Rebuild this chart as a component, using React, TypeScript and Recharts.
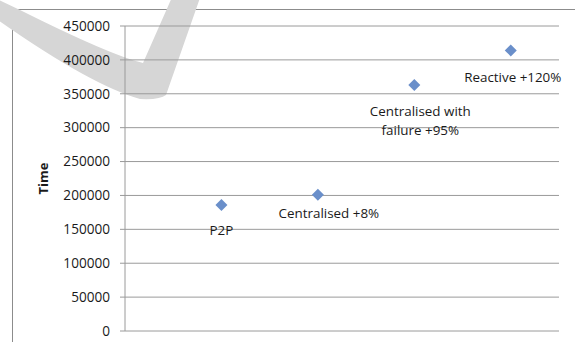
import React from "react";
import { ScatterChart, Scatter, XAxis, YAxis, CartesianGrid } from "recharts";

// run order along the hidden x axis, and measured completion time
const runs = [1, 2, 3, 4];
const times = [186000, 201000, 363000, 414000];
const pointLabels = ["P2P", "Centralised +8%", "Centralised with\nfailure +95%", "Reactive +120%"];
const yTicks = [0, 50000, 100000, 150000, 200000, 250000, 300000, 350000, 400000, 450000];

const data = runs.map((x, i) => ({ x, time: times[i], label: pointLabels[i] }));

const FONT = "'Open Sans', sans-serif";
const GRID = "#9a9a9a";
const INK = "#1a1a1a";

// hand-placed data labels, like the ones dragged around in the spreadsheet
const labelShift = [
  { dx: 0, dy: 25 },
  { dx: 11, dy: 18 },
  { dx: 6, dy: 26 },
  { dx: 2, dy: 27 },
];

function DiamondPoint(props: any) {
  const { cx, cy, index, payload } = props;
  const s = 6;
  const shift = labelShift[index] || { dx: 0, dy: 20 };
  const lines = String(payload.label).split("\n");
  return (
    <g>
      <path
        d={`M${cx} ${cy - s} L${cx + s} ${cy} L${cx} ${cy + s} L${cx - s} ${cy} Z`}
        fill="#6a8fca"
      />
      <text
        x={cx + shift.dx}
        y={cy + shift.dy}
        textAnchor="middle"
        dominantBaseline="central"
        fontFamily={FONT}
        fontSize={13.4}
        fill={INK}
      >
        {lines.map((ln, i) => (
          <tspan key={i} x={cx + shift.dx} dy={i === 0 ? 0 : 19}>
            {ln}
          </tspan>
        ))}
      </text>
    </g>
  );
}

export default function App() {
  return (
    <div style={{ position: "relative", width: 575, height: 342, overflow: "hidden", background: "#fff" }}>
      <style>{`body{margin:0}`}</style>
      {/* page frame */}
      <div
        style={{
          position: "absolute",
          left: 12,
          top: 9,
          right: -2,
          bottom: -2,
          borderLeft: "1px solid #8c8c8c",
          borderTop: "1px solid #8c8c8c",
        }}
      />
      {/* faint check-mark watermark behind the chart */}
      <svg width={575} height={342} style={{ position: "absolute", left: 0, top: 0 }}>
        <path
          d="M-5 -2 L20 10 Q110 55 143 63 L173 -5 L201 -5 L166 95 Q160 100 140 99 Q90 85 -5 18 Z"
          fill="#d6d6d6"
        />
      </svg>
      <div style={{ position: "absolute", left: 0, top: 0 }}>
        <ScatterChart width={575} height={342} margin={{ top: 26, right: 16, bottom: 11, left: 0 }}>
          <CartesianGrid vertical={false} stroke={GRID} strokeWidth={1} />
          <XAxis type="number" dataKey="x" domain={[0, 4.5]} hide />
          <YAxis
            type="number"
            dataKey="time"
            width={125}
            domain={[0, 450000]}
            ticks={yTicks}
            interval={0}
            tickSize={5}
            tickMargin={10}
            axisLine={{ stroke: GRID }}
            tickLine={{ stroke: GRID }}
            tick={{ fill: INK, fontSize: 13.6, fontFamily: FONT }}
            label={{
              value: "Time",
              angle: -90,
              position: "center",
              dx: -19,
              style: { fontFamily: FONT, fontSize: 13, fontWeight: 700, fill: INK, textAnchor: "middle" },
            }}
          />
          <Scatter data={data} shape={<DiamondPoint />} isAnimationActive={false} />
        </ScatterChart>
      </div>
    </div>
  );
}
